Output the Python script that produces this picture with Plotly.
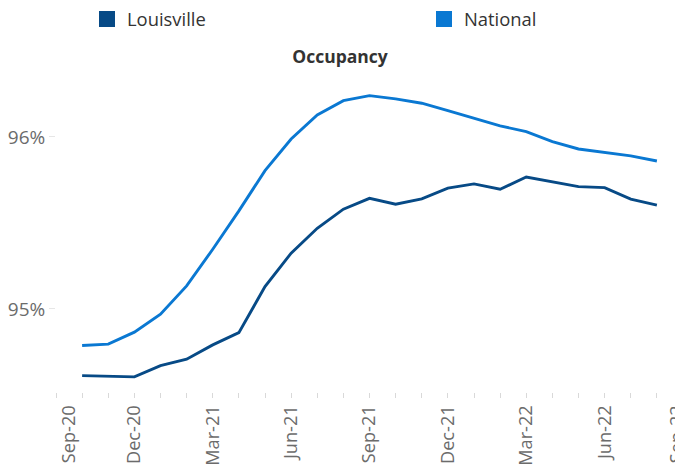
import plotly.graph_objects as go

# Month axis (Sep-20 .. Sep-22)
months = ["Sep-20", "Oct-20", "Nov-20", "Dec-20", "Jan-21", "Feb-21", "Mar-21", "Apr-21",
          "May-21", "Jun-21", "Jul-21", "Aug-21", "Sep-21", "Oct-21", "Nov-21", "Dec-21",
          "Jan-22", "Feb-22", "Mar-22", "Apr-22", "May-22", "Jun-22", "Jul-22", "Aug-22", "Sep-22"]
tick_labels = ["Sep-20", "Dec-20", "Mar-21", "Jun-21", "Sep-21", "Dec-21", "Mar-22", "Jun-22", "Sep-22"]

# Data months (Oct-20 .. Aug-22)
data_months = months[1:24]
louisville = [94.612, 94.610, 94.605, 94.670, 94.708, 94.791, 94.862, 95.130, 95.324, 95.469,
              95.580, 95.643, 95.609, 95.640, 95.702, 95.727, 95.696, 95.767, 95.740, 95.711,
              95.705, 95.638, 95.603]
national = [94.787, 94.795, 94.865, 94.969, 95.134, 95.347, 95.570, 95.804, 95.988, 96.128,
            96.211, 96.240, 96.221, 96.196, 96.153, 96.109, 96.064, 96.031, 95.973, 95.930,
            95.911, 95.890, 95.860]

C_LOU = "#074a86"
C_NAT = "#0a78d2"
FONT = "Open Sans"
XTICK_FONT = dict(family=FONT, size=18.2, color="#6b6b6b")
YTICK_FONT = dict(family=FONT, size=19, color="#6b6b6b")

# the page body adds an 8px margin, so the figure is sized to the remaining viewport
W, H = 675, 459

first_lbl, last_lbl = tick_labels[0], tick_labels[-1]
inner_labels = tick_labels[1:-1]

fig = go.Figure()
fig.add_trace(go.Scatter(x=data_months, y=louisville, mode="lines", name="Louisville",
                         line=dict(color=C_LOU, width=2.9), showlegend=False))
fig.add_trace(go.Scatter(x=data_months, y=national, mode="lines", name="National",
                         line=dict(color=C_NAT, width=2.9), showlegend=False))
# legend swatches (one legend each, placed apart like the reference)
fig.add_trace(go.Scatter(x=[None], y=[None], mode="markers", name="Louisville",
                         marker=dict(symbol="square", size=16, color=C_LOU),
                         legend="legend"))
fig.add_trace(go.Scatter(x=[None], y=[None], mode="markers", name="National",
                         marker=dict(symbol="square", size=16, color=C_NAT),
                         legend="legend2"))
# empty traces so the label-only overlay axes are drawn
fig.add_trace(go.Scatter(x=[first_lbl], y=[None], xaxis="x2", showlegend=False,
                         hoverinfo="skip", mode="lines"))
fig.add_trace(go.Scatter(x=[last_lbl], y=[None], xaxis="x3", showlegend=False,
                         hoverinfo="skip", mode="lines"))

xcommon = dict(type="category", categoryorder="array", categoryarray=months,
               range=[0, 24], tickangle=-90, tickfont=XTICK_FONT,
               showgrid=False, showline=False, zeroline=False,
               ticklabeloverflow="allow", automargin=False)
leg_common = dict(orientation="h", xref="container", yref="container",
                  xanchor="left", y=1 - 11 / H, yanchor="middle",
                  font=dict(family=FONT, size=18.4, color="#333333"),
                  itemwidth=30, bgcolor="rgba(0,0,0,0)")

fig.update_layout(
    width=W, height=H,
    margin=dict(l=48, r=0, t=72, b=75, autoexpand=False),
    paper_bgcolor="white", plot_bgcolor="white",
    font=dict(family=FONT, color="#595959"),
    title=dict(text="<b>Occupancy</b>", x=332 / W, xanchor="center", xref="container",
               y=1 - 49 / H, yanchor="middle", yref="container",
               font=dict(family=FONT, size=17.5, color="#333333")),
    legend=dict(**leg_common, x=79 / W),
    legend2=dict(**leg_common, x=416 / W),
    showlegend=True,
    xaxis=dict(**xcommon, tickmode="array", tickvals=months,
               ticktext=[m if m in inner_labels else "" for m in months],
               ticks="outside", ticklen=5, tickcolor="#d9d9d9", tickwidth=1),
    xaxis2=dict(**xcommon, overlaying="x", anchor="y", side="bottom",
                tickmode="array", tickvals=[first_lbl], ticktext=[first_lbl],
                ticks="outside", ticklen=5, tickcolor="rgba(0,0,0,0)",
                ticklabelshift=13),
    xaxis3=dict(**xcommon, overlaying="x", anchor="y", side="bottom",
                tickmode="array", tickvals=[last_lbl], ticktext=[last_lbl],
                ticks="outside", ticklen=5, tickcolor="rgba(0,0,0,0)",
                ticklabelshift=-6),
    yaxis=dict(range=[94.517, 96.331],
               tickmode="array", tickvals=[95, 96], ticktext=["95%", "96%"],
               ticks="outside", ticklen=6, tickcolor="#e6e6e6",
               tickfont=YTICK_FONT,
               showgrid=False, showline=False, zeroline=False, automargin=False),
)

fig.write_html("out.html")
